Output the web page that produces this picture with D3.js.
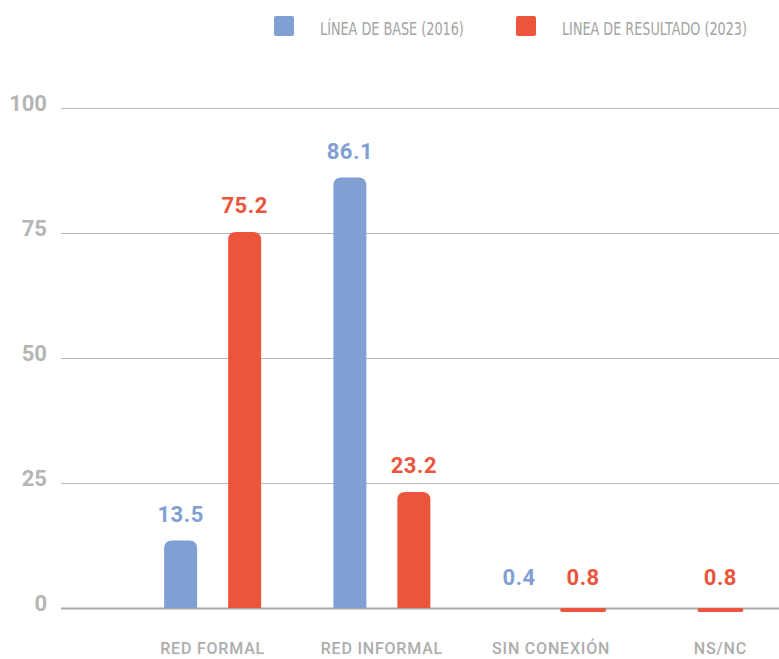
<!DOCTYPE html>
<html><head><meta charset="utf-8">
<script src="https://cdn.jsdelivr.net/npm/d3@7"></script>
<style>body{margin:0;background:#fff;}svg{display:block;}</style>
</head><body><svg id="c" width="779" height="659"></svg>
<script>
const categories = ["RED FORMAL", "RED INFORMAL", "SIN CONEXIÓN", "NS/NC"];
const seriesNames = ["LÍNEA DE BASE (2016)", "LINEA DE RESULTADO (2023)"];
const baseline2016 = [13.5, 86.1, 0.4, null];
const result2023 = [75.2, 23.2, 0.8, 0.8];
const yTicks = [0, 25, 50, 75, 100];
const colors = ["#80a0d4", "#ea553c"];

const svg = d3.select("#c");
const y = d3.scaleLinear().domain([0, 100]).range([608, 108]);
const x = d3.scaleBand().domain(categories).range([128, 805]);
const x1 = d3.scalePoint().domain([0, 1]).range([-32, 32]);

// grid
svg.append("g").selectAll("line").data(yTicks).join("line")
  .attr("x1", 61).attr("x2", 779)
  .attr("y1", d => y(d) + 0.5).attr("y2", d => y(d) + 0.5)
  .attr("stroke", d => d === 0 ? "#a8a8a8" : "#b8b8b8")
  .attr("stroke-width", d => d === 0 ? 2 : 1);

const yAxis = d3.axisLeft(y).tickValues(yTicks).tickSize(0).tickPadding(0);
const ga = svg.append("g").attr("transform", "translate(47,0)").call(yAxis);
ga.select(".domain").remove();
ga.selectAll("text").attr("font-family", "Roboto").attr("font-weight", 700)
  .attr("font-size", 22).attr("fill", "#b5b5b5").attr("dy", "0.1em");

// bars
const bars = [];
categories.forEach((c, i) => {
  const vals = [baseline2016[i], result2023[i]];
  const present = vals.map((v, s) => v == null ? null : s).filter(s => s != null);
  present.forEach(s => {
    const cx = x(c) + x.bandwidth() / 2 + (present.length === 2 ? x1(s) : 0);
    bars.push({c, s, v: vals[s], cx});
  });
});

function topRounded(x0, y0, w, h, r) {
  r = Math.min(r, h, w / 2);
  return `M${x0},${y0 + h}V${y0 + r}Q${x0},${y0} ${x0 + r},${y0}H${x0 + w - r}Q${x0 + w},${y0} ${x0 + w},${y0 + r}V${y0 + h}Z`;
}
const bw = 33;
const g = svg.append("g");
bars.forEach(b => {
  const h = y(0) - y(b.v);
  if (h >= 6) {
    g.append("path").attr("d", topRounded(b.cx - bw / 2, y(b.v), bw, h, 8)).attr("fill", colors[b.s]);
  } else if (b.v >= 0.5) {
    g.append("rect").attr("x", b.cx - 23).attr("y", y(0)).attr("width", 46).attr("height", h)
      .attr("rx", 2).attr("fill", colors[b.s]);
  }
  g.append("text").attr("x", b.cx).attr("y", Math.min(y(b.v), y(0) - 4) - 19)
    .attr("text-anchor", "middle").attr("font-family", "Roboto").attr("font-weight", 700)
    .attr("font-size", 22).attr("letter-spacing", 0.5).attr("fill", colors[b.s]).text(b.v);
});

// category labels
svg.append("g").selectAll("text").data(categories).join("text")
  .attr("x", d => x(d) + x.bandwidth() / 2).attr("y", 654)
  .attr("text-anchor", "middle").attr("font-family", "Roboto").attr("font-weight", 500)
  .attr("font-size", 16).attr("letter-spacing", 0.8).attr("fill", "#adadad").text(d => d);

// legend
const legX = [274, 516], legW = [144, 185];
seriesNames.forEach((n, i) => {
  svg.append("rect").attr("x", legX[i]).attr("y", 16).attr("width", 20).attr("height", 20)
    .attr("rx", 2).attr("fill", colors[i]);
  const t = svg.append("text").attr("x", 0).attr("y", 0)
    .attr("font-family", "'DejaVu Sans Condensed', sans-serif").attr("font-size", 18)
    .attr("fill", "#a3a3a3").text(n);
  const w = t.node().getComputedTextLength();
  t.attr("transform", `translate(${legX[i] + 46},35) scale(${legW[i] / w},1)`);
});
</script></body></html>
